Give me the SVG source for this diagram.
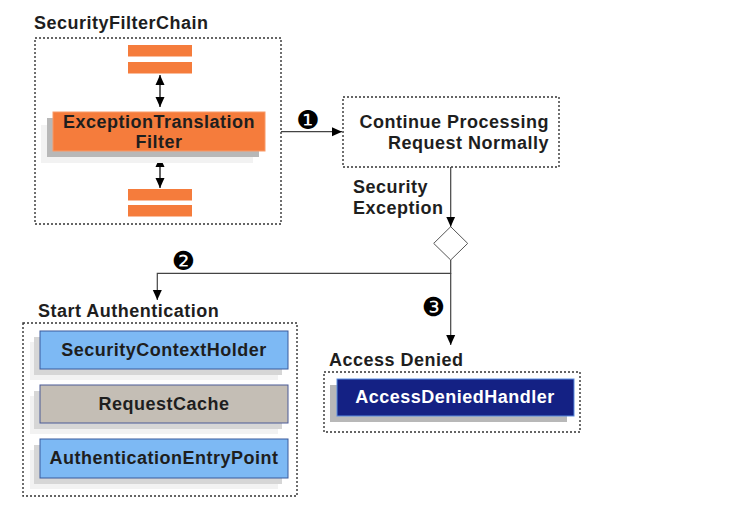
<svg xmlns="http://www.w3.org/2000/svg" width="753" height="511" viewBox="0 0 753 511">
<style>
.t{font-family:"Liberation Sans",Arial,sans-serif;font-weight:bold;font-size:18px;letter-spacing:0.5px;fill:#1e1e1e}
.c{text-anchor:middle}
.r{text-anchor:end}
.dash{fill:none;stroke:#333;stroke-width:1.4;stroke-dasharray:2 2}
.bar{fill:#f57c3c}
.ln{fill:none;stroke:#444;stroke-width:1.2}
.num{font-family:"DejaVu Sans",sans-serif;font-size:26px;text-anchor:middle;fill:#000}
.sh1{fill:#f2f2f2}
.sh2{fill:#b8b8b8}
.sh3{fill:#d6d6d6}
.blue{fill:#7db9f4;stroke:#3b5a9c;stroke-width:1}
.grey{fill:#c4beb5;stroke:#4a5a96;stroke-width:1}
.navy{fill:#142184;stroke:#5b8de0;stroke-width:1}
</style>
<defs>
<marker id="ah" viewBox="0 0 10 10" refX="10" refY="5" markerWidth="10" markerHeight="10" markerUnits="userSpaceOnUse" orient="auto-start-reverse">
<path d="M0,0.5 L10,5 L0,9.5 z" fill="#000"/>
</marker>
</defs>
<rect width="753" height="511" fill="#fff"/>

<g id="securityFilterChain">
<text class="t" x="34" y="29">SecurityFilterChain</text>
<rect class="dash" x="35" y="38" width="246" height="186"/>
<rect class="bar" x="128" y="45" width="64" height="11.5"/>
<rect class="bar" x="128" y="62" width="64" height="11.5"/>
<rect class="bar" x="128" y="189" width="64" height="11.5"/>
<rect class="bar" x="128" y="205" width="64" height="11.5"/>
<line x1="160" y1="75" x2="160" y2="107" stroke="#111" stroke-width="1.3" marker-start="url(#ah)" marker-end="url(#ah)"/>
<line x1="160" y1="157" x2="160" y2="188" stroke="#111" stroke-width="1.3" marker-start="url(#ah)" marker-end="url(#ah)"/>
</g>

<g id="exceptionTranslationFilter">
<rect class="sh1" x="41" y="125" width="212" height="38"/>
<rect class="sh2" x="47" y="118" width="212" height="39"/>
<rect x="53" y="112" width="212" height="39" fill="#f57c3c" stroke="#f89a68" stroke-width="1"/>
<text class="t c" x="159" y="128">ExceptionTranslation</text>
<text class="t c" x="159" y="148">Filter</text>
</g>

<g id="continueProcessing">
<rect class="dash" x="343" y="97" width="216" height="70"/>
<text class="t r" x="549" y="128">Continue Processing</text>
<text class="t r" x="549" y="149">Request Normally</text>
</g>

<g id="decision">
<path d="M450.7,226.7 L467.7,243.4 L450.7,260 L433.7,243.4 Z" fill="#fff" stroke="#555" stroke-width="1"/>
</g>

<g id="startAuthentication">
<text class="t" x="38" y="317">Start Authentication</text>
<rect class="dash" x="23" y="323" width="274" height="173"/>
<g id="securityContextHolder">
<rect class="sh1" x="30" y="342" width="248" height="38"/>
<rect class="sh3" x="34" y="337" width="248" height="38"/>
<rect class="blue" x="40" y="331" width="248" height="38"/>
<text class="t c" x="164" y="356">SecurityContextHolder</text>
</g>
<g id="requestCache">
<rect class="sh1" x="30" y="396" width="248" height="38"/>
<rect class="sh3" x="34" y="391" width="248" height="38"/>
<rect class="grey" x="40" y="385" width="248" height="38"/>
<text class="t c" x="164" y="410">RequestCache</text>
</g>
<g id="authenticationEntryPoint">
<rect class="sh1" x="30" y="450" width="248" height="39"/>
<rect class="sh3" x="34" y="445" width="248" height="39"/>
<rect class="blue" x="40" y="439" width="248" height="39"/>
<text class="t c" x="164" y="464">AuthenticationEntryPoint</text>
</g>
</g>

<g id="accessDenied">
<text class="t" x="329" y="366">Access Denied</text>
<rect class="dash" x="324" y="372" width="256" height="60"/>
<g id="accessDeniedHandler">
<rect class="sh2" x="330" y="385" width="237" height="37"/>
<rect class="navy" x="337" y="379" width="237" height="37"/>
<text class="t c" x="455" y="403" style="fill:#fff">AccessDeniedHandler</text>
</g>
</g>

<g id="connectors">
<line class="ln" x1="281" y1="131.7" x2="342" y2="131.7" marker-end="url(#ah)"/>
<line class="ln" x1="450.7" y1="167" x2="450.7" y2="226.7" marker-end="url(#ah)"/>
<path class="ln" d="M450.7,260 L450.7,273.3 L157.3,273.3 L157.3,300" marker-end="url(#ah)"/>
<line class="ln" x1="450.7" y1="273.3" x2="450.7" y2="345" marker-end="url(#ah)"/>
<text class="t" x="353" y="193">Security</text>
<text class="t" x="353" y="214">Exception</text>
<text class="num" x="308" y="128.5">❶</text>
<text class="num" x="183.3" y="270.3">❷</text>
<text class="num" x="433.3" y="316.3">❸</text>
</g>
</svg>
